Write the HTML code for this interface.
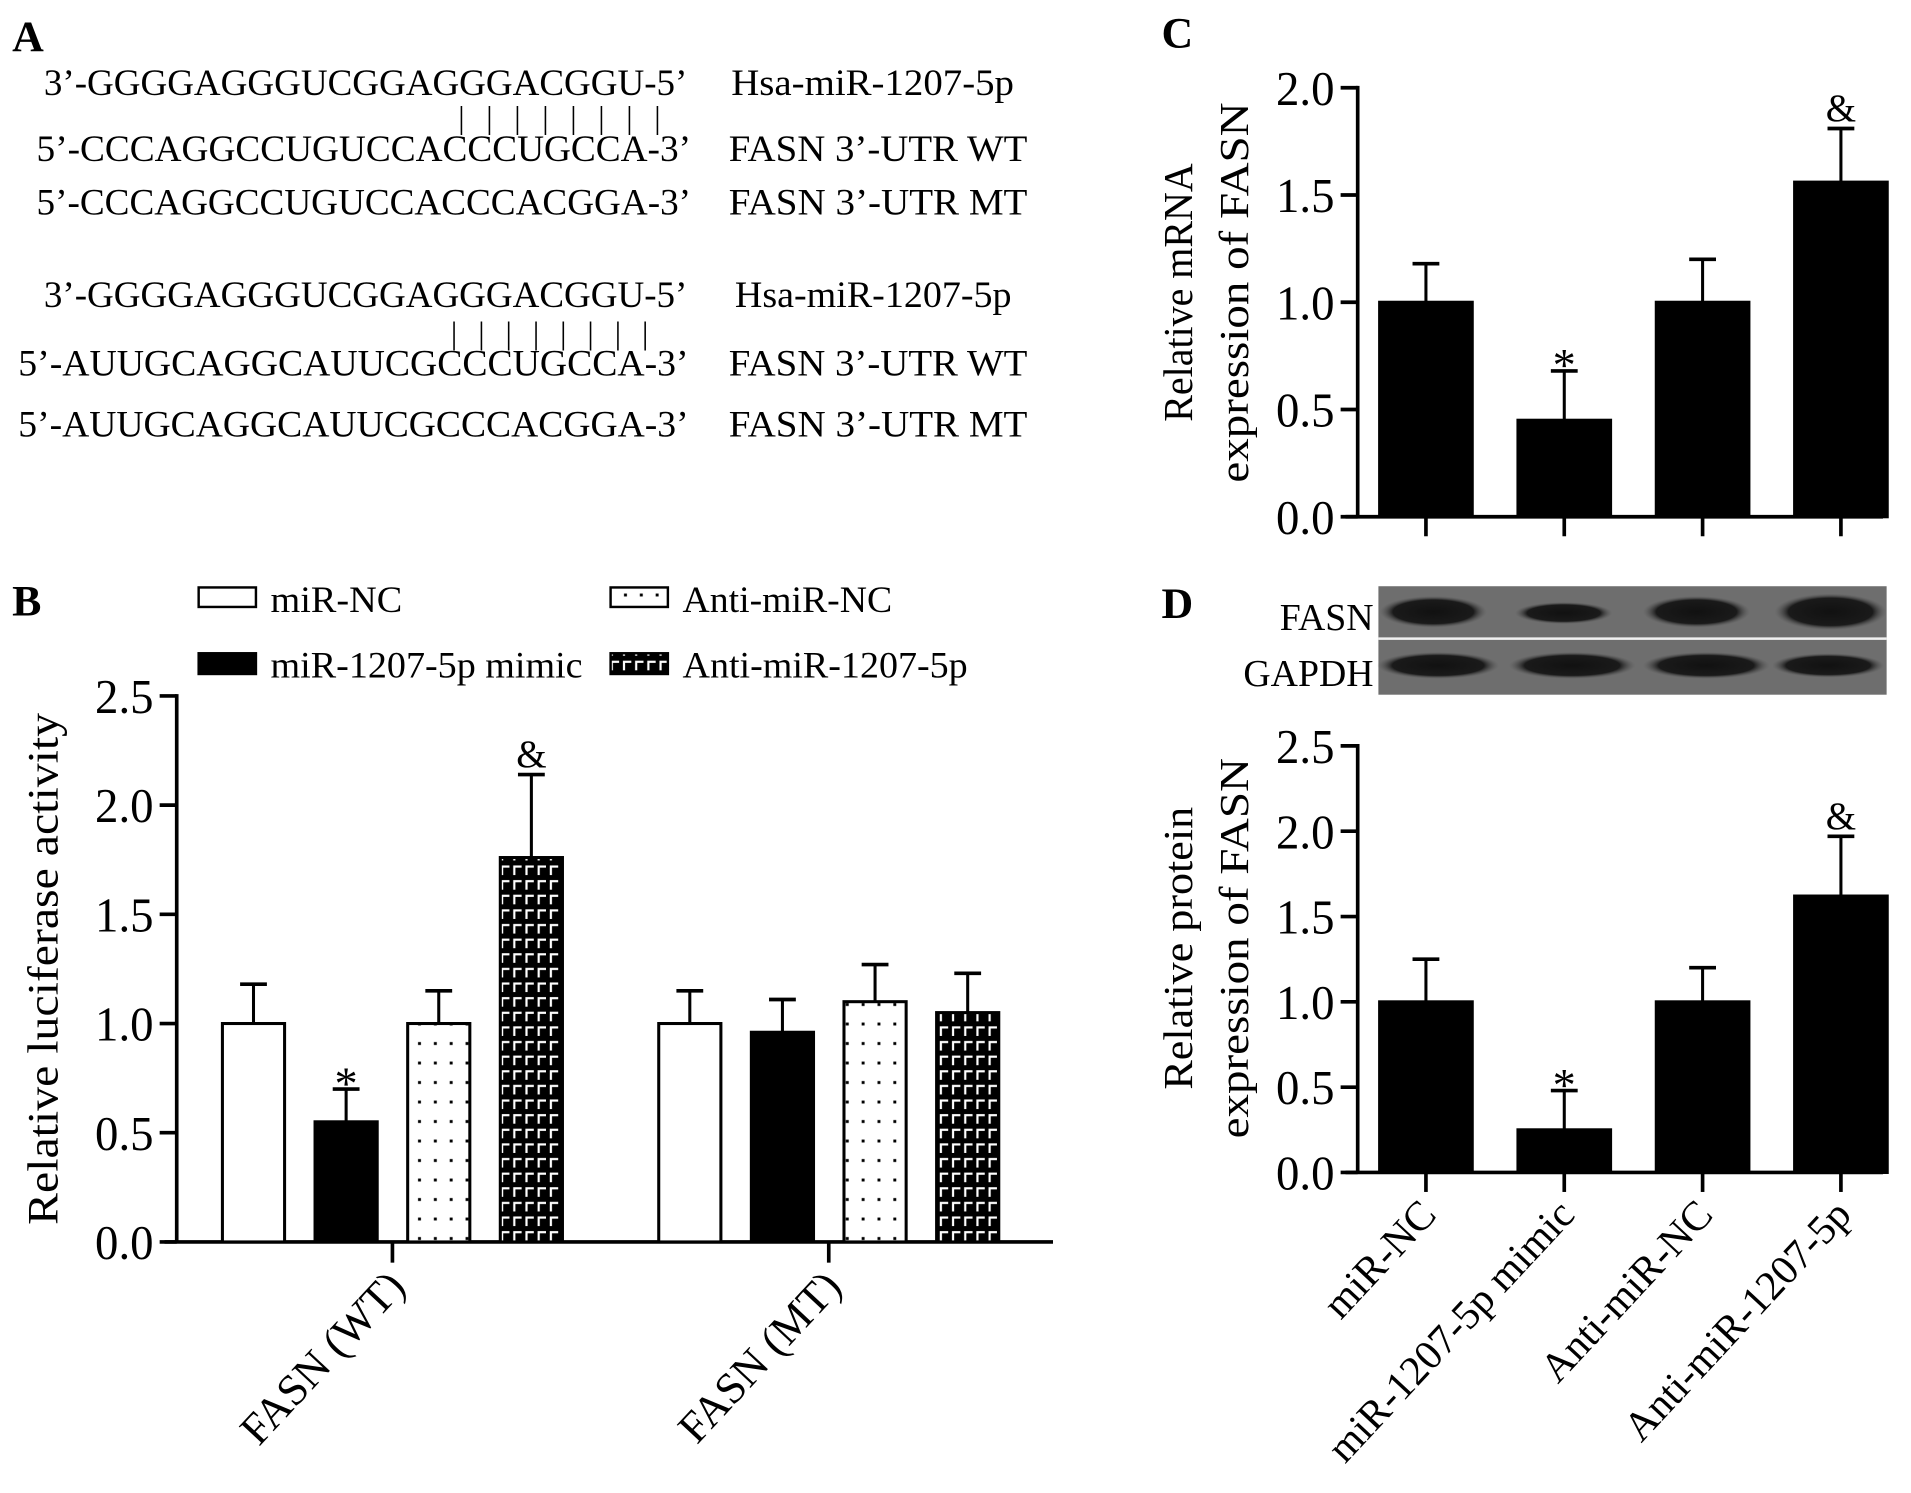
<!DOCTYPE html>
<html><head><meta charset="utf-8">
<style>
html,body{margin:0;padding:0;background:#fff;}
svg{display:block;}
text{font-family:"Liberation Serif","DejaVu Serif",serif;fill:#000;}
</style></head>
<body>
<svg id="fig" xmlns="http://www.w3.org/2000/svg" width="1911" height="1493" viewBox="0 0 1568 1225" preserveAspectRatio="none">
<defs>
<pattern id="dots" patternUnits="userSpaceOnUse" width="13" height="16" x="0" y="0">
<rect width="13" height="16" fill="#fff"/><rect x="5" y="7" width="2.4" height="2.4" fill="#000"/>
</pattern>
<pattern id="brick" patternUnits="userSpaceOnUse" width="10" height="12">
<rect width="10" height="12" fill="#000"/>
<path d="M2 10 V3 H8" stroke="#fff" stroke-width="1.8" fill="none"/>
</pattern>
<radialGradient id="band" cx="50%" cy="50%" r="50%"><stop offset="0" stop-color="#111"/><stop offset="0.75" stop-color="#1a1a1a"/><stop offset="1" stop-color="#555" stop-opacity="0"/></radialGradient>
</defs>

<!-- Panel labels -->
<text x="10" y="42" font-size="36" font-weight="bold">A</text>
<text x="10" y="505" font-size="36" font-weight="bold">B</text>
<text x="953" y="39" font-size="36" font-weight="bold">C</text>
<text x="953" y="507" font-size="36" font-weight="bold">D</text>

<!-- Panel A sequences -->
<g font-size="30">
<text x="36" y="78" textLength="528" lengthAdjust="spacingAndGlyphs">3’-GGGGAGGGUCGGAGGGACGGU-5’</text>
<text x="600" y="78" textLength="232" lengthAdjust="spacingAndGlyphs">Hsa-miR-1207-5p</text>
<text x="376" y="105" font-size="26" textLength="166" lengthAdjust="spacing">| | | | | | | |</text>
<text x="30" y="132" textLength="537" lengthAdjust="spacingAndGlyphs">5’-CCCAGGCCUGUCCACCCUGCCA-3’</text>
<text x="598" y="132" textLength="245" lengthAdjust="spacingAndGlyphs">FASN 3’-UTR WT</text>
<text x="30" y="176" textLength="537" lengthAdjust="spacingAndGlyphs">5’-CCCAGGCCUGUCCACCCACGGA-3’</text>
<text x="598" y="176" textLength="245" lengthAdjust="spacingAndGlyphs">FASN 3’-UTR MT</text>

<text x="36" y="252" textLength="528" lengthAdjust="spacingAndGlyphs">3’-GGGGAGGGUCGGAGGGACGGU-5’</text>
<text x="603" y="252" textLength="227" lengthAdjust="spacingAndGlyphs">Hsa-miR-1207-5p</text>
<text x="370" y="282" font-size="26" textLength="162" lengthAdjust="spacing">| | | | | | | |</text>
<text x="15" y="308" textLength="550" lengthAdjust="spacingAndGlyphs">5’-AUUGCAGGCAUUCGCCCUGCCA-3’</text>
<text x="598" y="308" textLength="245" lengthAdjust="spacingAndGlyphs">FASN 3’-UTR WT</text>
<text x="15" y="358" textLength="550" lengthAdjust="spacingAndGlyphs">5’-AUUGCAGGCAUUCGCCCACGGA-3’</text>
<text x="598" y="358" textLength="245" lengthAdjust="spacingAndGlyphs">FASN 3’-UTR MT</text>
</g>

<!-- Panel B legend -->
<g font-size="30">
<g><rect x="163" y="482" width="47" height="16" fill="#fff" stroke="#000" stroke-width="2"/><text x="222" y="502" textLength="108" lengthAdjust="spacingAndGlyphs">miR-NC</text></g>
<g><rect x="501" y="482" width="47" height="16" fill="url(#dots)" stroke="#000" stroke-width="2"/><text x="560" y="502" textLength="172" lengthAdjust="spacingAndGlyphs">Anti-miR-NC</text></g>
<g><rect x="163" y="536" width="47" height="17" fill="#000" stroke="#000" stroke-width="2"/><text x="222" y="556" textLength="256" lengthAdjust="spacingAndGlyphs">miR-1207-5p mimic</text></g>
<g><rect x="501" y="536" width="47" height="17" fill="url(#brick)" stroke="#000" stroke-width="2"/><text x="560" y="556" textLength="234" lengthAdjust="spacingAndGlyphs">Anti-miR-1207-5p</text></g>
</g>

<g id="chartB"></g>
<g id="chartC"></g>

<!-- Western blot -->
<g>
<rect x="1131" y="481" width="417" height="89" fill="#6e6e6e"/>
<line x1="1131" y1="524" x2="1548" y2="524" stroke="#f0f0f0" stroke-width="2"/>
<ellipse cx="1176" cy="502" rx="44" ry="13" fill="url(#band)"/>
<ellipse cx="1283" cy="503" rx="40" ry="9" fill="url(#band)"/>
<ellipse cx="1392" cy="502" rx="44" ry="13" fill="url(#band)"/>
<ellipse cx="1502" cy="502" rx="46" ry="15" fill="url(#band)"/>
<ellipse cx="1180" cy="546" rx="50" ry="11" fill="url(#band)"/>
<ellipse cx="1290" cy="546" rx="52" ry="11" fill="url(#band)"/>
<ellipse cx="1400" cy="546" rx="52" ry="11" fill="url(#band)"/>
<ellipse cx="1500" cy="546" rx="46" ry="10" fill="url(#band)"/>
<text x="1127" y="517" font-size="31" text-anchor="end">FASN</text>
<text x="1127" y="563" font-size="31" text-anchor="end">GAPDH</text>
</g>

<g id="chartD"></g>
</svg>

<script>
// ---- Panel B data ----
const bGroups = ["FASN (WT)", "FASN (MT)"];
const bSeries = ["miR-NC", "miR-1207-5p mimic", "Anti-miR-NC", "Anti-miR-1207-5p"];
const bWT = [1.0, 0.55, 1.0, 1.76];
const bWTErr = [0.18, 0.15, 0.15, 0.38];
const bMT = [1.0, 0.96, 1.10, 1.05];
const bMTErr = [0.15, 0.15, 0.17, 0.18];
const bMarksWT = ["", "*", "", "&"];
const bMarksMT = ["", "", "", ""];
const bTicks = ["0.0", "0.5", "1.0", "1.5", "2.0", "2.5"];
// ---- Panel C data ----
const cCats = ["miR-NC", "miR-1207-5p mimic", "Anti-miR-NC", "Anti-miR-1207-5p"];
const cVals = [1.0, 0.45, 1.0, 1.56];
const cErr = [0.18, 0.23, 0.20, 0.25];
const cMarks = ["", "*", "", "&"];
const cTicks = ["0.0", "0.5", "1.0", "1.5", "2.0"];
// ---- Panel D data ----
const dCats = ["miR-NC", "miR-1207-5p mimic", "Anti-miR-NC", "Anti-miR-1207-5p"];
const dVals = [1.0, 0.25, 1.0, 1.62];
const dErr = [0.25, 0.23, 0.20, 0.35];
const dMarks = ["", "*", "", "&"];
const dTicks = ["0.0", "0.5", "1.0", "1.5", "2.0", "2.5"];

const NS = "http://www.w3.org/2000/svg";
function mk(parent, tag, attrs, txt) {
  const e = document.createElementNS(NS, tag);
  for (const k in attrs) e.setAttribute(k, attrs[k]);
  if (txt !== undefined) e.textContent = txt;
  parent.appendChild(e);
  return e;
}
function yAxis(g, x0, y0, y1, max, ticks, name) {
  const sy = v => y0 - (y0 - y1) * v / max;
  const ax = mk(g, "line", {x1: x0, y1: y0, x2: x0, y2: y1 - 1.5, stroke: "#000", "stroke-width": 3});
  
  
  ticks.forEach(t => {
    const y = sy(parseFloat(t));
    mk(g, "line", {x1: x0 - 14, y1: y, x2: x0, y2: y, stroke: "#000", "stroke-width": 3});
    const tl = mk(g, "text", {x: x0 - 19, y: y + 14, "font-size": 40, "text-anchor": "end", textLength: 48, lengthAdjust: "spacingAndGlyphs"}, t);
    
    
  });
  return sy;
}
function bar(g, xl, w, v, err, sy, fill, mark, name) {
  const y0 = sy(0), yt = sy(v), ye = sy(v + err), cx = xl + w / 2;
  const el = mk(g, "line", {x1: cx, y1: yt, x2: cx, y2: ye, stroke: "#000", "stroke-width": 2.5});
  
  
  mk(g, "line", {x1: cx - 11, y1: ye, x2: cx + 11, y2: ye, stroke: "#000", "stroke-width": 3});
  const r = mk(g, "rect", {x: xl, y: yt, width: w, height: y0 - yt, fill: fill, stroke: "#000", "stroke-width": 2.5});
  
  
  if (mark) {
    const m = mk(g, "text", {x: cx, y: ye - (mark === "*" ? -8 : 6), "font-size": mark === "*" ? 38 : 32, "text-anchor": "middle"}, mark);
    
    
  }
}

// Panel B
(function () {
  const g = document.getElementById("chartB");
  const x0 = 145, y0 = 1019, y1 = 571;
  const sy = yAxis(g, x0, y0, y1, 2.5, bTicks, "b");
  const xa = mk(g, "line", {x1: 135, y1: y0, x2: 864, y2: y0, stroke: "#000", "stroke-width": 3});
  
  
  const fills = ["#fff", "#000", "url(#dots)", "url(#brick)"];
  const groupCenters = [322, 680], pitch = 76, w = 51;
  [bWT, bMT].forEach((vals, gi) => {
    const errs = gi === 0 ? bWTErr : bMTErr;
    const marks = gi === 0 ? bMarksWT : bMarksMT;
    vals.forEach((v, i) => {
      const cx = groupCenters[gi] + (i - 1.5) * pitch;
      bar(g, cx - w / 2, w, v, errs[i], sy, fills[i], marks[i], "bar-" + (gi ? "mt" : "wt") + "-" + i);
    });
    const c = groupCenters[gi];
    mk(g, "line", {x1: c, y1: y0, x2: c, y2: y0 + 17, stroke: "#000", "stroke-width": 3});
    const t = mk(g, "text", {x: c + 12, y: y0 + 38, "font-size": 36, "text-anchor": "end", transform: `rotate(-47 ${c + 12} ${y0 + 38})`}, bGroups[gi]);
    
    
  });
  const yt = mk(g, "text", {x: 47, y: 795, "font-size": 36, "text-anchor": "middle", transform: "rotate(-90 47 795)", textLength: 420, lengthAdjust: "spacingAndGlyphs"}, "Relative luciferase activity");
  
  
})();

function panelCD(id, vals, errs, marks, ticks, max, y0, y1, titles, titleY, titleLens, cats) {
  const g = document.getElementById(id);
  const x0 = 1114;
  const sy = yAxis(g, x0, y0, y1, max, ticks, id);
  const xa = mk(g, "line", {x1: 1104, y1: y0, x2: 1545, y2: y0, stroke: "#000", "stroke-width": 3});
  
  
  const pitch = 113.5, first = 1170, w = 76;
  vals.forEach((v, i) => {
    const cx = first + i * pitch;
    bar(g, cx - w / 2, w, v, errs[i], sy, "#000", marks[i], id + "-bar-" + i);
    mk(g, "line", {x1: cx, y1: y0, x2: cx, y2: y0 + 16, stroke: "#000", "stroke-width": 3});
    if (cats) {
      const t = mk(g, "text", {x: cx + 10, y: y0 + 36, "font-size": 34, "text-anchor": "end", transform: `rotate(-47 ${cx + 10} ${y0 + 36})`}, cats[i]);
      
      
    }
  });
  titles.forEach((tx, i) => {
    const x = 978 + i * 46;
    const t = mk(g, "text", {x: x, y: titleY, "font-size": 34, "text-anchor": "middle", transform: `rotate(-90 ${x} ${titleY})`, textLength: titleLens[i], lengthAdjust: "spacingAndGlyphs"}, tx);
    
    
  });
}
panelCD("chartC", cVals, cErr, cMarks, cTicks, 2.0, 424, 72, ["Relative mRNA", "expression of FASN"], 240, [212, 312], null);
panelCD("chartD", dVals, dErr, dMarks, dTicks, 2.5, 962, 612, ["Relative protein", "expression of FASN"], 778, [232, 312], dCats);
</script>
</body></html>
